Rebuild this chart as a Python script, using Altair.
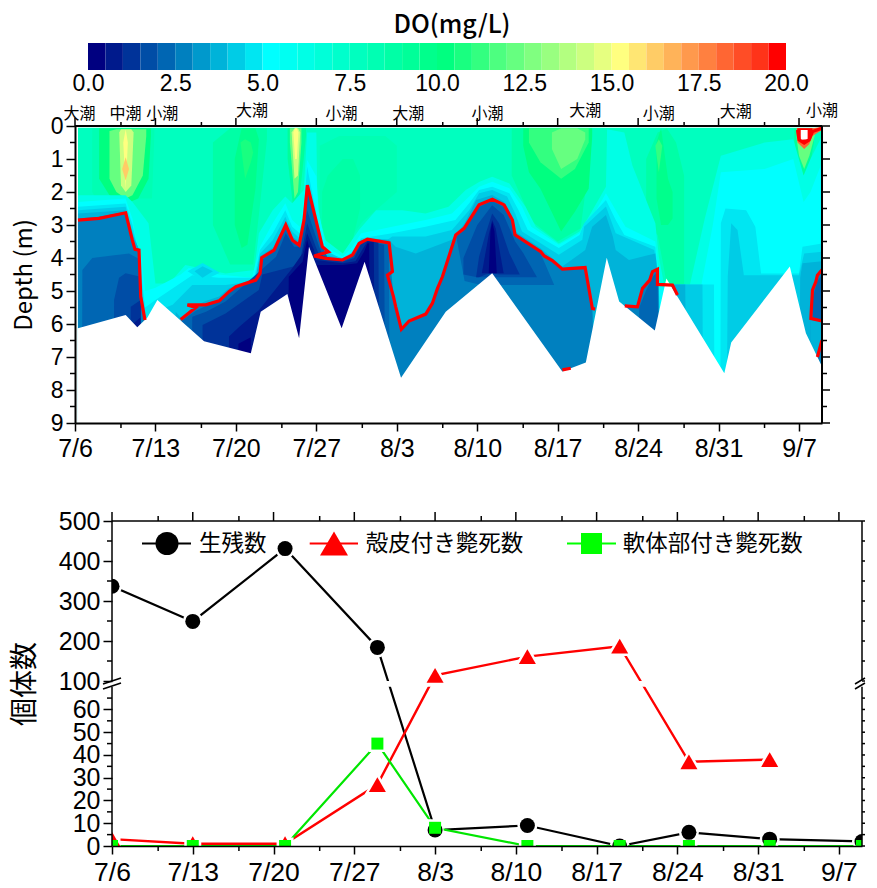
import altair as alt
import pandas as pd

# ---------- values ----------
date_labels = ["7/6", "7/13", "7/20", "7/27", "8/3", "8/10", "8/17", "8/24", "8/31", "9/7"]
major_days = [0, 7, 14, 21, 28, 35, 42, 49, 56, 63]
minor_days = [4, 11, 18, 25, 32, 39, 46, 53, 60]
tide_text = ["大潮", "中潮", "小潮", "大潮", "小潮", "大潮", "小潮", "大潮", "小潮", "大潮", "小潮"]
tide_day = [0.4, 4.4, 7.6, 15.4, 23.2, 29.0, 35.9, 44.4, 50.8, 57.5, 65.0]
tide_depth = [-0.36, -0.36, -0.36, -0.46, -0.36, -0.36, -0.36, -0.45, -0.36, -0.42, -0.45]

band_colors = ["#000080", "#001A8C", "#003399", "#004DA6", "#0066B3", "#0080BF", "#0099CC", "#00B3D9",
               "#00CCE6", "#00E6F2", "#00FFFF", "#00FFF2", "#00FFE6", "#00FFD9", "#00FFCC", "#00FFBF",
               "#00FFB3", "#00FFA6", "#00FF99", "#00FF8C", "#00FF80", "#19FF80", "#33FF80", "#4DFF80",
               "#66FF80", "#80FF80", "#99FF80", "#B3FF80", "#CCFF80", "#E6FF80", "#FFFF80", "#FFE673",
               "#FFCC66", "#FFB359", "#FF994D", "#FF8040", "#FF6633", "#FF4D26", "#FF3319", "#FF0000"]
band_lo = [0.0, 0.5, 1.0, 1.5, 2.0, 2.5, 3.0, 3.5, 4.0, 4.5, 5.0, 5.5, 6.0, 6.5, 7.0, 7.5, 8.0, 8.5, 9.0, 9.5,
           10.0, 10.5, 11.0, 11.5, 12.0, 12.5, 13.0, 13.5, 14.0, 14.5, 15.0, 15.5, 16.0, 16.5, 17.0, 17.5,
           18.0, 18.5, 19.0, 19.5]
band_hi = band_lo[1:] + [20.0]
cbar_ticks = [0, 2.5, 5, 7.5, 10, 12.5, 15, 17.5, 20]

# sea bed (depth, m) by day since 7/6
bed = [(0.26, 6.13), (4.41, 5.73), (5.42, 6.1), (6.3, 5.8), (7.17, 5.27), (11.23, 6.52), (15.3, 6.89), (16.16, 5.63),
       (18.48, 5.09), (19.5, 6.43), (20.36, 3.66), (23.2, 6.13), (25.2, 4.11), (28.37, 7.63), (32.26, 5.63),
       (36.3, 4.46), (42.4, 7.44), (44.45, 7.17), (46.27, 3.99), (47.35, 5.32), (50.45, 6.2), (51.46, 4.62),
       (56.5, 7.49), (57.1, 6.56), (62.2, 4.26), (63.6, 6.28), (65.0, 7.29)]

# red contour segments
red_a = [(0.26, 2.85), (2.09, 2.8), (4.41, 2.63), (4.99, 3.46), (5.22, 3.74), (5.57, 3.76), (5.72, 5.17), (6.09, 5.88)]
red_b = [(9.2, 5.86), (10.5, 5.5), (9.78, 5.42), (11.37, 5.42), (12.54, 5.3), (13.4, 5.02), (13.99, 4.87), (15.73, 4.67),
         (16.1, 4.47), (16.25, 3.99), (17.32, 3.76), (18.34, 3.0), (18.92, 3.46), (19.5, 3.61), (19.93, 2.85),
         (20.22, 1.79), (21.53, 3.66), (22.05, 3.81), (20.8, 3.94), (21.82, 4.01), (23.27, 4.06), (24.14, 3.91),
         (24.72, 3.56), (25.44, 3.43), (27.33, 3.54), (27.62, 4.41), (27.19, 4.52), (27.71, 5.17), (27.91, 5.48),
         (28.4, 6.16), (29.07, 5.91), (30.52, 5.7), (31.1, 5.37), (31.54, 4.92), (31.97, 4.57), (33.13, 3.3),
         (33.86, 3.1), (35.16, 2.39), (36.32, 2.22), (37.34, 2.39), (38.06, 2.85), (38.29, 3.3), (39.22, 3.51),
         (40.53, 3.81), (40.82, 3.94), (41.54, 4.08), (42.41, 4.34), (44.39, 4.29), (45.02, 5.53), (45.26, 5.55)]
red_c = [(42.41, 7.39), (43.14, 7.34)]
red_d = [(47.84, 5.45), (48.94, 5.48), (49.38, 4.92), (50.01, 4.67), (50.25, 4.41), (50.68, 4.34), (50.68, 4.8),
         (51.99, 4.82), (52.42, 5.12)]
red_e = [(65.0, 4.36), (64.6, 4.52), (64.46, 4.72), (64.17, 4.97), (64.03, 5.83), (65.0, 5.91)]
red_f = [(65.0, 6.49), (64.6, 7.0)]
red_g = [(62.87, 0.12), (63.0, 0.42), (63.45, 0.52), (63.88, 0.42), (64.17, 0.17), (65.0, 0.07)]

# isolines: (day, depth where DO falls below the level)
low_6 = [(0.26, 2.1), (4.4, 2.1), (5.0, 2.3), (6.4, 2.95), (7.0, 4.77), (8.2, 4.77), (9.6, 4.21), (13.1, 4.47),
         (15.6, 4.36), (16.0, 3.25), (17.2, 2.55), (18.3, 2.14), (18.9, 2.34), (19.9, 1.94), (20.2, 0.2), (21.0, 0.2),
         (21.1, 2.55), (21.8, 3.46), (23.3, 3.86), (24.7, 3.15), (26.2, 2.55), (28.5, 2.55), (30.5, 2.65), (32.5, 2.45),
         (34.0, 1.94), (35.2, 1.69), (36.3, 1.54), (37.8, 1.74), (39.2, 2.45), (40.1, 3.05), (42.1, 3.56), (43.9, 3.2),
         (44.7, 2.75), (46.2, 1.84), (46.3, 0.1), (47.8, 0.2), (48.5, 1.2), (50.5, 2.95), (50.8, 3.96), (51.3, 4.87),
         (53.5, 4.82), (54.8, 2.8), (56.2, 0.9), (60.0, 0.5), (62.5, 0.4), (63.4, 1.5), (64.0, 1.0), (65.0, 0.3)]
low_5 = [(0.26, 2.3), (4.4, 2.2), (5.0, 2.8), (5.3, 3.4), (5.8, 4.0), (6.1, 5.0), (7.0, 4.9), (9.2, 4.5), (9.9, 4.3),
         (12.5, 4.5), (15.4, 4.6), (16.1, 3.66), (17.2, 2.95), (18.3, 2.34), (18.9, 2.85), (19.55, 3.05), (19.93, 2.14),
         (20.2, 1.03), (21.0, 1.53), (21.2, 2.55), (21.8, 3.66), (23.3, 3.96), (24.14, 3.66), (24.9, 3.25), (27.6, 3.05),
         (30.5, 2.85), (32.8, 2.65), (34.3, 2.14), (35.16, 1.84), (36.3, 1.69), (37.8, 1.89), (38.9, 2.45), (39.7, 3.05),
         (42.1, 3.6), (43.9, 3.25), (44.7, 2.95), (46.2, 2.04), (47.05, 2.55), (47.9, 3.05), (50.5, 3.5), (50.9, 4.87),
         (54.5, 4.82), (55.5, 3.0), (56.2, 1.4), (60.0, 1.3), (62.5, 1.0), (63.4, 2.3), (64.0, 2.0), (65.0, 1.1)]
low_45 = [(0.26, 2.45), (4.4, 2.35), (5.0, 3.0), (5.4, 3.6), (5.8, 4.6), (6.1, 5.5), (7.0, 5.27), (10.2, 4.52), (12.5, 4.6),
          (15.6, 4.6), (16.1, 3.76), (17.2, 3.25), (18.3, 2.55), (18.9, 3.05), (19.55, 3.25), (19.93, 2.45), (20.2, 1.23),
          (21.1, 2.85), (21.5, 3.6), (21.8, 3.86), (23.3, 4.0), (24.14, 3.81), (24.9, 3.4), (27.6, 3.25), (30.5, 3.05),
          (33.1, 2.85), (34.3, 2.34), (35.16, 1.94), (36.3, 1.84), (37.8, 2.04), (38.6, 2.55), (39.4, 3.15), (42.1, 3.7),
          (43.9, 3.3), (44.3, 2.95), (46.2, 2.24), (47.05, 2.85), (47.8, 3.3), (50.5, 3.66), (50.8, 4.82), (51.3, 9.0),
          (51.4, 4.8), (55.6, 4.8), (55.65, 9.0), (56.15, 9.0), (56.2, 2.95), (56.6, 2.5), (58.4, 2.55), (59.2, 3.05),
          (59.7, 4.47), (63.0, 4.47), (63.3, 3.66), (65.0, 3.56)]
low_4 = [(0.26, 2.55), (4.4, 2.45), (5.0, 3.2), (5.5, 3.7), (5.8, 5.0), (6.1, 5.7), (6.5, 9.0), (7.17, 5.6), (8.5, 5.42),
         (10.2, 4.82), (13.1, 4.82), (15.7, 4.7), (16.1, 3.86), (17.2, 3.46), (18.3, 2.75), (18.9, 3.2), (19.55, 3.4),
         (19.93, 2.65), (20.2, 1.9), (21.1, 3.05), (21.7, 3.76), (23.3, 4.04), (24.14, 3.86), (24.9, 3.45), (27.2, 3.45),
         (27.6, 3.35), (30.5, 3.35), (32.8, 3.15), (34.3, 2.55), (35.16, 2.04), (36.3, 1.94), (37.6, 2.14), (38.3, 2.65),
         (38.9, 3.2), (42.1, 3.9), (44.15, 3.45), (44.3, 3.05), (46.2, 2.44), (47.05, 3.25), (50.4, 3.76), (50.8, 4.77),
         (51.0, 9.0), (51.4, 4.8), (54.6, 4.8), (54.65, 9.0), (56.7, 9.0), (56.8, 4.56), (57.1, 2.95), (57.65, 3.15),
         (58.2, 4.52), (63.0, 4.52), (63.45, 3.86), (65.0, 3.81)]
low_35 = [(0.26, 2.65), (4.4, 2.55), (5.0, 3.3), (5.6, 3.75), (5.8, 5.1), (6.1, 5.8), (6.5, 9.0), (8.7, 9.0), (8.76, 5.63),
          (9.2, 5.8), (10.5, 5.45), (11.37, 5.3), (12.54, 5.17), (13.4, 4.92), (15.7, 4.6), (16.1, 3.95), (17.3, 3.66),
          (18.3, 2.9), (18.9, 3.35), (19.5, 3.5), (19.93, 2.75), (20.2, 1.8), (21.5, 3.6), (21.8, 3.9), (23.3, 4.04),
          (24.14, 3.87), (24.7, 3.5), (25.4, 3.4), (27.3, 3.45), (27.9, 3.66), (29.65, 3.86), (32.8, 3.45), (33.9, 2.95),
          (34.9, 2.24), (36.3, 2.09), (37.3, 2.29), (38.06, 2.75), (38.3, 3.2), (40.5, 3.7), (42.4, 4.26), (44.4, 3.76),
          (45.0, 3.05), (46.2, 2.7), (46.8, 3.35), (47.05, 3.76), (48.2, 4.06), (50.5, 3.86), (50.8, 4.77), (50.9, 9.0),
          (51.4, 4.8), (53.1, 4.8), (53.2, 9.0), (63.0, 9.0), (63.1, 4.6), (63.3, 4.16), (65.0, 4.1)]
low_25 = [(0.26, 2.8), (2.09, 2.75), (4.41, 2.6), (5.0, 3.4), (5.22, 3.7), (5.57, 3.72), (5.72, 5.1), (6.09, 5.85), (6.3, 9.0),
          (9.2, 9.0), (9.25, 5.83), (10.5, 5.47), (11.37, 5.38), (12.54, 5.27), (13.4, 5.0), (14.0, 4.85), (15.73, 4.65),
          (16.1, 4.45), (16.25, 3.97), (17.32, 3.74), (18.34, 2.98), (18.92, 3.44), (19.5, 3.58), (19.93, 2.83), (20.22, 1.77),
          (21.53, 3.64), (21.82, 3.99), (23.27, 4.04), (24.14, 3.89), (24.72, 3.54), (25.44, 3.41), (27.33, 3.52), (27.5, 4.36),
          (27.7, 5.1), (27.9, 5.4), (28.4, 6.13), (29.07, 5.9), (30.52, 5.68), (31.1, 5.35), (31.54, 4.9), (31.97, 4.55),
          (33.13, 3.28), (33.86, 3.08), (35.16, 2.38), (36.32, 2.2), (37.34, 2.37), (38.06, 2.83), (38.29, 3.28), (39.22, 3.49),
          (40.53, 3.79), (41.54, 4.06), (42.41, 4.32), (44.39, 4.27), (45.02, 5.5), (45.3, 9.0), (47.4, 9.0), (47.5, 5.4),
          (47.84, 5.43), (48.94, 5.46), (49.38, 4.9), (50.01, 4.65), (50.25, 4.39), (50.68, 4.32), (50.75, 4.78), (51.0, 9.0),
          (51.4, 4.8), (52.0, 4.8), (52.42, 5.1), (52.5, 9.0), (64.0, 9.0), (64.03, 5.8), (64.17, 4.95), (64.46, 4.7), (64.6, 4.5),
          (65.0, 4.34)]
low_2 = [(0.6, 9.0), (0.64, 4.36), (1.5, 4.0), (4.7, 3.86), (5.72, 4.06), (5.74, 9.0), (9.28, 9.0), (9.3, 5.9), (10.5, 5.6), (11.4, 5.45),
         (12.5, 5.33), (13.4, 5.05), (14.0, 4.9), (15.7, 4.7), (16.1, 4.5), (16.3, 4.05), (17.3, 3.8), (18.3, 3.1), (18.9, 3.5),
         (19.5, 3.65), (19.93, 2.9), (20.22, 1.85), (21.4, 3.55), (21.6, 3.7), (22.0, 4.0), (23.27, 4.08), (24.14, 3.92), (24.72, 3.58),
         (25.44, 3.45), (27.3, 3.6), (27.4, 9.0), (48.9, 9.0), (49.1, 5.5), (49.67, 5.0), (50.3, 4.55), (50.7, 4.4), (50.8, 9.0)]
low_15 = [(3.38, 9.0), (3.4, 5.27), (3.83, 4.6), (4.4, 4.46), (5.72, 4.57), (5.74, 9.0), (10.18, 9.0), (10.2, 5.78), (11.4, 5.63),
          (13.1, 5.32), (16.2, 4.36), (17.5, 3.96), (18.34, 3.25), (19.06, 3.66), (19.65, 3.66), (20.2, 2.55), (21.25, 3.66),
          (21.53, 3.91), (22.0, 4.05), (23.3, 4.1), (24.1, 3.97), (24.7, 3.62), (25.44, 3.5), (26.9, 3.6), (27.0, 9.0)]
low_1 = [(4.83, 9.0), (4.85, 5.48), (5.72, 5.27), (5.74, 9.0), (11.08, 9.0), (11.1, 6.03), (13.1, 5.68), (16.0, 4.97), (16.3, 4.5),
         (19.5, 4.21), (19.8, 3.7), (20.2, 2.95), (20.95, 3.66), (21.25, 3.91), (23.3, 4.11), (24.3, 4.0), (24.9, 3.56), (25.44, 3.45),
         (26.4, 3.5), (26.5, 9.0)]
low_05 = [(5.08, 9.0), (5.1, 5.98), (5.7, 5.8), (5.72, 9.0), (13.38, 9.0), (13.4, 6.38), (14.3, 6.08), (16.0, 5.58), (18.9, 4.31),
          (19.8, 3.86), (20.2, 3.25), (20.8, 3.76), (20.95, 4.06), (23.3, 4.16), (24.4, 4.1), (25.15, 3.66), (25.44, 3.5), (26.0, 3.5),
          (26.1, 9.0)]
low_0 = [(14.2, 9.0), (14.22, 6.6), (15.3, 6.4), (15.32, 9.0), (18.5, 9.0), (18.6, 4.57), (19.8, 4.11), (20.2, 3.45), (20.5, 3.86),
         (20.95, 4.21), (23.3, 4.21), (24.55, 4.16), (25.15, 3.81), (25.44, 3.56), (25.6, 3.55), (25.7, 9.0)]

# blobs: (day, top depth, bottom depth)
top_1 = [(1.5, 0.07, 2.0), (1.8, 0.07, 2.2), (6.7, 0.07, 2.2), (6.9, 0.07, 0.3)]
top_2 = [(2.1, 0.07, 1.6), (3.0, 0.07, 2.1), (4.5, 0.07, 2.35), (5.5, 0.07, 2.2), (6.4, 0.07, 1.6), (6.6, 0.07, 0.3)]
top_3 = [(3.0, 0.15, 1.6), (3.6, 0.1, 2.0), (4.41, 0.1, 2.2), (5.0, 0.1, 2.1), (5.9, 0.1, 1.5), (6.2, 0.1, 0.3)]
top_4 = [(3.85, 0.2, 0.2), (4.0, 0.1, 1.8), (4.41, 0.1, 2.0), (4.9, 0.1, 1.8), (5.1, 0.2, 0.2)]
top_5 = [(4.2, 0.5, 0.5), (4.41, 0.1, 1.9), (4.6, 0.5, 0.5)]
top_6 = [(4.1, 1.3, 1.3), (4.41, 0.95, 1.65), (4.7, 1.3, 1.3)]
mid_1 = [(12.0, 0.5, 3.0), (13.5, 0.07, 4.2), (15.5, 0.07, 4.2), (16.0, 0.07, 2.7), (16.7, 0.07, 0.4)]
mid_2 = [(13.9, 1.0, 3.0), (14.5, 0.07, 3.7), (15.0, 0.07, 3.6), (15.7, 0.07, 1.9), (16.0, 0.4, 0.4)]
mid_3 = [(14.4, 0.5, 0.5), (14.8, 0.4, 1.6), (15.3, 0.5, 1.1), (15.5, 0.8, 0.8)]
str_1 = [(18.5, 0.07, 1.0), (19.0, 0.07, 2.5), (19.5, 0.07, 2.3), (19.9, 0.07, 1.0), (20.1, 0.07, 0.3)]
str_2 = [(18.7, 0.07, 0.5), (19.1, 0.07, 2.2), (19.4, 0.07, 2.0), (19.7, 0.07, 0.5)]
str_3 = [(18.85, 0.2, 0.2), (19.1, 0.07, 1.6), (19.4, 0.07, 1.5), (19.6, 0.2, 0.2)]
str_4 = [(19.0, 0.2, 0.2), (19.15, 0.07, 1.0), (19.3, 0.07, 1.0), (19.45, 0.2, 0.2)]
aug_0 = [(21.3, 0.6, 3.2), (23.0, 0.3, 3.9), (25.0, 0.3, 2.9), (27.0, 0.3, 2.3), (28.0, 0.6, 2.0)]
aug_1 = [(21.5, 2.0, 3.0), (22.0, 1.5, 3.7), (23.3, 1.0, 3.9), (24.2, 1.0, 3.4), (24.8, 1.5, 2.5)]
bloom_1 = [(38.0, 0.07, 1.5), (39.8, 0.07, 2.9), (42.0, 0.07, 3.5), (44.0, 0.07, 3.1), (45.0, 0.07, 0.4)]
bloom_2 = [(39.0, 0.07, 0.6), (39.5, 0.07, 1.4), (40.5, 0.07, 1.9), (42.3, 0.07, 3.2), (43.5, 0.07, 2.6), (44.7, 0.07, 1.9), (45.0, 0.07, 0.3)]
bloom_3 = [(39.5, 0.07, 0.5), (40.5, 0.07, 1.1), (42.3, 0.07, 1.6), (43.5, 0.07, 1.3), (44.7, 0.07, 0.5)]
bloom_4 = [(41.5, 0.2, 0.7), (42.3, 0.07, 1.3), (43.7, 0.07, 1.0), (44.4, 0.2, 0.4)]
late_1 = [(49.7, 1.0, 3.0), (50.7, 0.2, 3.3), (51.5, 0.07, 4.8), (52.3, 0.5, 4.8), (53.0, 1.5, 4.8)]
late_2 = [(50.6, 0.5, 2.2), (51.0, 0.07, 3.0), (51.6, 1.6, 3.0), (52.0, 2.0, 2.8)]
late_3 = [(50.5, 0.6, 0.6), (50.8, 0.4, 1.4), (51.1, 0.6, 0.6)]
end_1 = [(62.6, 0.07, 0.5), (63.0, 0.07, 1.3), (63.45, 0.07, 1.9), (63.9, 0.07, 1.3), (64.3, 0.07, 0.5)]
end_2 = [(62.8, 0.07, 0.4), (63.0, 0.07, 0.9), (63.45, 0.07, 1.3), (63.9, 0.07, 0.9), (64.4, 0.07, 0.25)]
end_3 = [(62.8, 0.07, 0.2), (62.87, 0.07, 0.5), (63.45, 0.07, 0.7), (63.88, 0.07, 0.55), (64.17, 0.07, 0.3), (65.0, 0.03, 0.12)]
end_4 = [(62.85, 0.07, 0.15), (63.0, 0.07, 0.42), (63.45, 0.07, 0.52), (63.88, 0.07, 0.42), (64.17, 0.07, 0.17)]
white_cap = [(63.15, 0.12, 0.42), (63.75, 0.12, 0.4)]
# dark pools under the red contour, with a flat floor
dome_2 = [(33.2, 3.35, 3.4), (33.9, 3.15, 4.7), (35.16, 2.45, 4.8), (36.3, 2.27, 4.82), (37.3, 2.45, 4.82), (38.0, 2.9, 4.82),
          (38.3, 3.35, 4.82), (39.2, 3.55, 4.82), (40.5, 3.85, 4.82), (41.7, 4.82, 4.82)]
dome_15 = [(33.8, 4.0, 4.5), (35.0, 3.0, 4.58), (36.3, 2.4, 4.58), (37.3, 2.7, 4.58), (38.3, 3.5, 4.58), (39.0, 3.85, 4.58), (40.2, 4.58, 4.58)]
dome_1 = [(34.9, 4.58, 4.58), (35.16, 3.96, 4.58), (35.75, 3.25, 4.5), (36.3, 2.65, 4.46), (36.9, 2.95, 4.5), (37.8, 3.86, 4.5), (38.7, 4.5, 4.5)]
dome_05 = [(35.4, 4.46, 4.46), (36.0, 3.3, 4.46), (36.3, 2.85, 4.46), (36.6, 3.1, 4.46), (37.3, 4.46, 4.46)]
dome_0 = [(36.0, 4.46, 4.46), (36.15, 3.2, 4.46), (36.3, 2.9, 4.46), (36.5, 3.2, 4.46), (36.7, 4.46, 4.46)]
ring_45 = [(9.8, 4.4, 4.4), (11.1, 4.15, 4.7), (12.6, 4.45, 4.45)]
ring_4 = [(10.4, 4.4, 4.4), (11.1, 4.25, 4.6), (12.0, 4.4, 4.4)]
edge_35 = [(64.0, 5.87, 9.0), (65.0, 5.93, 9.0)]
edge_2 = [(64.2, 5.2, 5.8), (64.6, 4.7, 5.85), (65.0, 4.5, 5.88)]
edge_25 = [(64.5, 7.1, 9.0), (65.0, 6.5, 9.0)]

# lower chart
survey_day = [0, 7, 15, 23, 28, 36, 44, 50, 57, 65]
alive = [337, 249, 431, 184, 7, 9, 0, 6, 3, 2]
shell_dead = [3, 1, 1, 27, 114, 161, 187, 37, 38, None]
soft_dead = [0, 0, 0, 45, 8, 0, 0, 0, 0, 0]
count_ticks = [0, 10, 20, 30, 40, 50, 60, 100, 200, 300, 400, 500]
count_minor = [5, 15, 25, 35, 45, 55, 65, 150, 250, 350, 450]
legend_text = ["生残数", "殻皮付き斃死数", "軟体部付き斃死数"]

SANS = "Liberation Sans"
CJK = "Noto Sans CJK JP"

# All panels share one plot origin (that of the lower chart); the upper panels
# reach left of it through their scale ranges.
# ---------- contour panel ----------
L1, W1, H1 = -37, 710, 297
xs1 = alt.Scale(domain=[0, 65], range=[L1, W1], nice=False, zero=False)
ys1 = alt.Scale(domain=[0, 9], reverse=True, nice=False, zero=False)
color_scale = alt.Scale(type="threshold", domain=band_lo[1:], range=band_colors)

painter = [(7.5, [(0.26, 0.05, 9.0), (65.0, 0.05, 9.0)]),
           (8, top_1), (8, aug_0), (8.5, bloom_1), (8.5, mid_1), (9, str_1), (8.5, aug_1), (8.5, late_1), (9, end_1),
           (10, top_2), (9.5, mid_2), (10, bloom_2), (9.5, late_2),
           (10.5, mid_3), (11, bloom_3), (11, late_3),
           (12, top_3), (12, str_2), (12, bloom_4), (12, end_2),
           (14, top_4), (14, str_3), (15, top_5), (15, str_4), (16, top_6)]
lows = [(6, low_6), (5, low_5), (4.5, low_45), (4.5, ring_45), (4, low_4), (4, ring_4), (3.5, low_35), (2.5, low_25),
        (3.5, edge_35), (2.5, edge_25), (2, low_2), (2, dome_2), (2, edge_2), (1.5, low_15), (1.5, dome_15),
        (1, low_1), (1, dome_1), (0.5, low_05), (0.5, dome_05), (0, low_0), (0, dome_0)]
rows = []
for g, (v, pts_) in enumerate(painter + lows):
    for p in pts_:
        top, bot = (p[1], p[2]) if len(p) == 3 else (p[1], 9.0)
        rows.append(dict(g=g, v=v, day=p[0], top=top, bot=bot))
fill_df = pd.DataFrame(rows)

end_rows = []
for k, (v, pts_) in enumerate([(18, end_3), (19.5, end_4)]):
    for p in pts_:
        end_rows.append(dict(g=k, v=v, day=p[0], top=p[1], bot=p[2]))
end_df = pd.DataFrame(end_rows)

bands = []
for frame in (fill_df, end_df):
    for g in frame.g.unique():
        sub = frame[frame.g == g]
        bands.append(alt.Chart(sub).mark_area(opacity=1, strokeWidth=0).encode(
            x=alt.X("day:Q", scale=xs1, axis=None),
            y=alt.Y("top:Q", scale=ys1, axis=None),
            y2="bot:Q",
            color=alt.Color("v:Q", scale=color_scale, legend=None)))

mask_df = pd.DataFrame({"day": [b[0] for b in bed], "top": [b[1] for b in bed], "bot": [9.0] * len(bed)})
mask = alt.Chart(mask_df).mark_area(color="white").encode(
    x=alt.X("day:Q", scale=xs1, axis=None), y=alt.Y("top:Q", scale=ys1, axis=None), y2="bot:Q")
cap_df = pd.DataFrame({"day": [p[0] for p in white_cap], "top": [p[1] for p in white_cap], "bot": [p[2] for p in white_cap]})
cap = alt.Chart(cap_df).mark_area(color="white").encode(
    x=alt.X("day:Q", scale=xs1, axis=None), y=alt.Y("top:Q", scale=ys1, axis=None), y2="bot:Q")

red_rows = []
for s, seg in enumerate([red_a, red_b, red_c, red_d, red_e, red_f, red_g]):
    for i, (d, z) in enumerate(seg):
        red_rows.append(dict(seg=s, i=i, day=d, depth=z))
red_line = alt.Chart(pd.DataFrame(red_rows)).mark_line(color="#FF0000", strokeWidth=3.2).encode(
    x=alt.X("day:Q", scale=xs1, axis=None), y=alt.Y("depth:Q", scale=ys1, axis=None),
    detail="seg:N", order="i:Q")

tide = alt.Chart(pd.DataFrame({"t": tide_text, "day": tide_day, "depth": tide_depth})).mark_text(
    font=CJK, fontSize=16, color="black").encode(
    x=alt.X("day:Q", scale=xs1, axis=None), y=alt.Y("depth:Q", scale=ys1, axis=None), text="t:N")

def xticks(values, y0, y1, sx, w=1.5):
    return alt.Chart(pd.DataFrame({"day": values})).mark_rule(color="black", strokeWidth=w).encode(
        x=alt.X("day:Q", scale=sx, axis=None), y=alt.value(y0), y2=alt.value(y1))

def yticks(values, x0, x1, sy, w=1.5):
    return alt.Chart(pd.DataFrame({"v": values})).mark_rule(color="black", strokeWidth=w).encode(
        y=alt.Y("v:Q", scale=sy, axis=None), x=alt.value(x0), x2=alt.value(x1))

axis_common = dict(domainColor="black", tickColor="black", labelColor="black", titleColor="black", grid=False, zindex=1)
base1 = alt.Chart(pd.DataFrame({"day": [0, 65], "depth": [0, 9]})).mark_point(opacity=0).encode(
    x=alt.X("day:Q", scale=xs1, axis=alt.Axis(
        orient="bottom", values=major_days, labelExpr="[" + ",".join("'%s'" % s for s in date_labels) + "][datum.value/7]",
        title=None, labelFont=SANS, labelFontSize=25, tickSize=8, tickWidth=1.5, domainWidth=2, labelPadding=5,
        labelFlush=False, labelOverlap=False, **axis_common)),
    y=alt.Y("depth:Q", scale=ys1, axis=alt.Axis(
        orient="left", offset=-L1, values=list(range(10)), title="Depth (m)", titleFont=CJK, titleFontSize=24, titleFontWeight="normal",
        labelFont=SANS, labelFontSize=23, tickSize=9, tickWidth=1.5, domainWidth=2, titlePadding=14, labelPadding=3,
        labelOverlap=False, **axis_common)))

depth_half = [0.5, 1.5, 2.5, 3.5, 4.5, 5.5, 6.5, 7.5, 8.5]
depth_whole = list(range(10))
top_rule = alt.Chart(pd.DataFrame({"a": [0]})).mark_rule(color="black", strokeWidth=2).encode(
    x=alt.value(L1), x2=alt.value(W1), y=alt.value(0))
right_rule = alt.Chart(pd.DataFrame({"a": [0]})).mark_rule(color="black", strokeWidth=2).encode(
    x=alt.value(W1), y=alt.value(0), y2=alt.value(H1))

p1 = alt.layer(*bands, mask, cap, red_line, tide, base1,
               top_rule, right_rule,
               xticks(major_days, 0, -8, xs1), xticks(minor_days, 0, -4, xs1), xticks(minor_days, H1, H1 + 5, xs1),
               yticks(depth_half, L1, L1 - 5, ys1), yticks(depth_half, W1, W1 + 5, ys1), yticks(depth_whole, W1, W1 + 8, ys1)
               ).resolve_axis(x="independent", y="independent").properties(width=W1, height=H1)

# ---------- colour bar ----------
cb_df = pd.DataFrame({"lo": band_lo, "hi": band_hi})
xs0 = alt.Scale(domain=[0, 20], range=[-24, 674], nice=False, zero=False)
cbar = alt.Chart(cb_df).mark_rect().encode(
    x=alt.X("lo:Q", scale=xs0, axis=alt.Axis(values=cbar_ticks, format=".1f", title=None, labelFont=SANS, labelFontSize=23,
                                            ticks=False, domain=False, labelPadding=2, labelFlush=False, labelOverlap=False,
                                            labelColor="black", grid=False)),
    x2="hi:Q",
    color=alt.Color("lo:Q", scale=color_scale, legend=None))
cb_title = alt.Chart(pd.DataFrame({"t": ["DO(mg/L)"]})).mark_text(font=CJK, fontSize=25, color="black", fontWeight=500).encode(
    x=alt.value(340), y=alt.value(-18), text="t:N")
p0 = alt.layer(cbar, cb_title).properties(width=674, height=27)

# ---------- count panel ----------
W2, H2 = 750, 325
xs2 = alt.Scale(domain=[0, 65], nice=False, zero=False)
ys2 = alt.Scale(domain=[0, 70, 100, 500], range=[H2, 165.7, 160, 0], nice=False, zero=False)

def series(values):
    return pd.DataFrame({"day": survey_day, "n": values}).dropna()

def line(values, col, w):
    return alt.Chart(series(values)).mark_line(color=col, strokeWidth=w, clip=True).encode(
        x=alt.X("day:Q", scale=xs2, axis=None), y=alt.Y("n:Q", scale=ys2, axis=None))

def pts(values, col, shape, size, halo=False):
    kw = dict(fill="white", stroke="white", strokeWidth=5) if halo else dict(fill=col, stroke=col, strokeWidth=0)
    return alt.Chart(series(values)).mark_point(shape=shape, size=size, filled=True, opacity=1, clip=True, **kw).encode(
        x=alt.X("day:Q", scale=xs2, axis=None), y=alt.Y("n:Q", scale=ys2, axis=None))

base2 = alt.Chart(pd.DataFrame({"day": [0, 65], "n": [0, 500]})).mark_point(opacity=0).encode(
    x=alt.X("day:Q", scale=xs2, axis=alt.Axis(
        orient="bottom", values=major_days, labelExpr="[" + ",".join("'%s'" % s for s in date_labels) + "][datum.value/7]",
        title=None, labelFont=SANS, labelFontSize=26.5, tickSize=8, tickWidth=1.5, domainWidth=1.5, labelPadding=5,
        labelFlush=False, labelOverlap=False, **axis_common)),
    y=alt.Y("n:Q", scale=ys2, axis=alt.Axis(
        orient="left", values=count_ticks, title="個体数", titleFont=CJK, titleFontSize=28, titleFontWeight="normal", domain=False,
        labelFont=SANS, labelFontSize=25, tickSize=9, tickWidth=1.5, titlePadding=19, labelPadding=3, labelOverlap=False,
        **axis_common)))

break_df = pd.DataFrame({"lo": [70], "hi": [100]})
break_band = alt.Chart(break_df).mark_rect(color="white", clip=True).encode(
    x=alt.value(0), x2=alt.value(W2), y=alt.Y("lo:Q", scale=ys2, axis=None), y2="hi:Q")

def vrule(x, lo, hi, w):
    return alt.Chart(pd.DataFrame({"lo": [lo], "hi": [hi]})).mark_rule(color="black", strokeWidth=w).encode(
        x=alt.value(x), y=alt.Y("lo:Q", scale=ys2, axis=None), y2="hi:Q")

def slash(x0, x1, yc, col="black", w=1.5):
    return alt.Chart(pd.DataFrame({"a": [0]})).mark_rule(color=col, strokeWidth=w).encode(
        x=alt.value(x0), x2=alt.value(x1), y=alt.value(yc + 3), y2=alt.value(yc - 3))

def breaks(x0, x1):
    return [slash(x0, x1, 162.5, "white", 4), slash(x0, x1, 165), slash(x0, x1, 160)]

LY = 22.5
def legend_key(x0, x1, xc, col, shape, size, label, tx, w):
    one = pd.DataFrame({"t": [label]})
    return [alt.Chart(one).mark_rule(color=col, strokeWidth=w).encode(x=alt.value(x0), x2=alt.value(x1), y=alt.value(LY)),
            alt.Chart(one).mark_point(shape=shape, size=size, filled=True, color=col, opacity=1).encode(x=alt.value(xc), y=alt.value(LY)),
            alt.Chart(one).mark_text(font=CJK, fontSize=22.5, color="black", align="left").encode(
                x=alt.value(tx), y=alt.value(LY), text="t:N")]

p2 = alt.layer(
    base2,
    line(alive, "black", 2.2), pts(alive, "black", "circle", 225, True),
    line(shell_dead, "#FF0000", 2.4), pts(shell_dead, "#FF0000", "triangle-up", 290, True),
    line(soft_dead, "#00E600", 2.2), pts(soft_dead, "#00FF00", "square", 144, True),
    break_band,
    pts(alive, "black", "circle", 225), pts(shell_dead, "#FF0000", "triangle-up", 290), pts(soft_dead, "#00FF00", "square", 144),
    *legend_key(30, 79, 55, "black", "circle", 529, legend_text[0], 87, 2.2),
    *legend_key(197.7, 246, 222, "#FF0000", "triangle-up", 784, legend_text[1], 253.7, 2.2),
    *legend_key(455, 504, 479.5, "#00FF00", "square", 441, legend_text[2], 510.7, 2.2),
    vrule(0, 0, 70, 1.5), vrule(0, 100, 500, 1.5), vrule(W2, 0, 70, 1.5), vrule(W2, 100, 500, 1.5),
    alt.Chart(pd.DataFrame({"a": [0]})).mark_rule(color="black", strokeWidth=1.5).encode(x=alt.value(0), x2=alt.value(W2), y=alt.value(0)),
    *breaks(-9, 9), *breaks(W2 - 7, W2 + 3),
    xticks(major_days, 0, -9, xs2), xticks(minor_days, 0, -5, xs2), xticks(minor_days, H2, H2 + 5, xs2),
    yticks(count_minor, 0, -5, ys2), yticks(count_ticks + count_minor, W2, W2 + 3, ys2),
).resolve_axis(x="independent", y="independent").properties(width=W2, height=H2)

upper = alt.concat(p0, p1, columns=1, spacing=7).properties(align="none")
chart = alt.concat(upper, p2, columns=1, spacing=48).properties(
    align="none", padding={"left": 3, "top": 5, "right": 0, "bottom": 0}
).configure_view(stroke=None)

chart.save("out.html", embed_options={"renderer": "svg", "actions": False})
